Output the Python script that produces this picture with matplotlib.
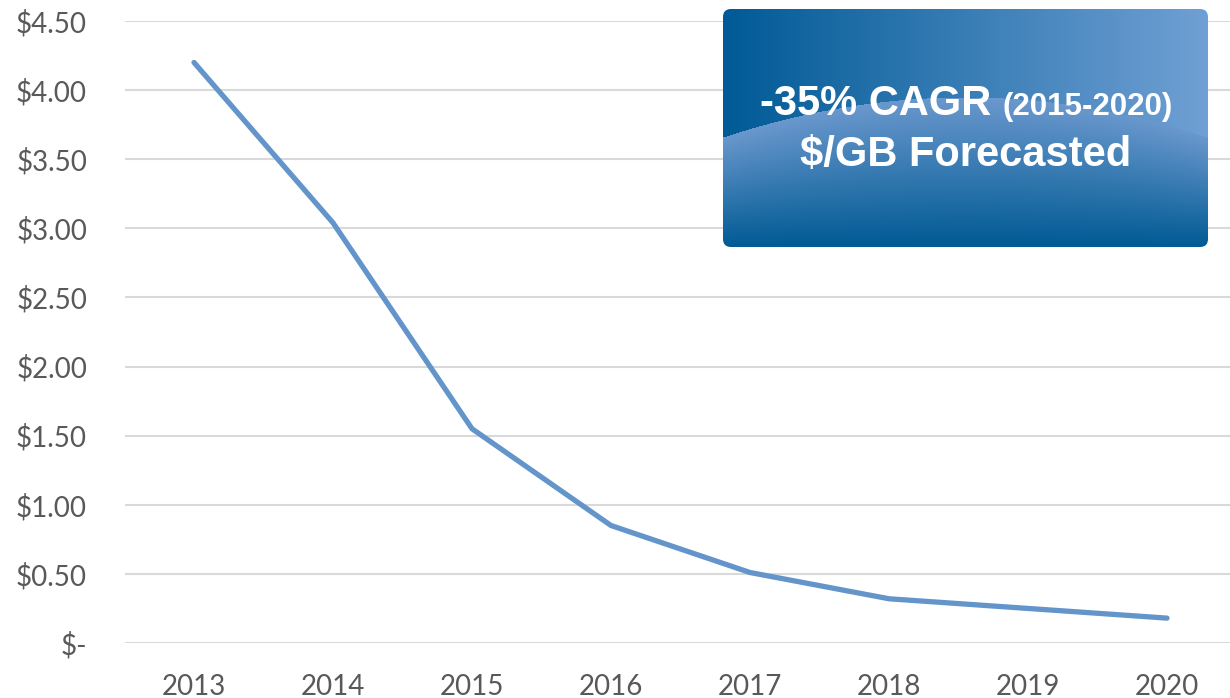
import numpy as np
import matplotlib.pyplot as plt
from matplotlib.patches import FancyBboxPatch
from matplotlib.ticker import FuncFormatter

# price per GB
years = ['2013', '2014', '2015', '2016', '2017', '2018', '2019', '2020']
price = [4.20, 3.04, 1.55, 0.85, 0.51, 0.32, 0.25, 0.18]
yticks = [0, 0.5, 1.0, 1.5, 2.0, 2.5, 3.0, 3.5, 4.0, 4.5]

W, H = 1230, 698
fig = plt.figure(figsize=(W / 100, H / 100), dpi=100)

# plot area: gridlines from x=125 to the right edge, $4.50 at y=21, $- at y=643
ax = fig.add_axes([124.5 / W, (H - 643) / H, 1112 / W, 622 / H])
x = np.arange(len(years))
ax.plot(x, price, color='#6395cb', lw=3.8, solid_capstyle='round', clip_on=False, zorder=3)
ax.set_xlim(-0.5, 7.5)
ax.set_ylim(0, 4.5)
ax.set_xticks(x)
ax.set_xticklabels(years)
ax.set_yticks(yticks)


def money(v, pos):
    if v == 0:
        return '$-'
    return '${:.2f}'.format(v)


ax.yaxis.set_major_formatter(FuncFormatter(money))
ax.grid(axis='y', color='#d9d9d9', lw=1.5)
ax.set_axisbelow(True)
for s in ax.spines.values():
    s.set_visible(False)
ax.tick_params(length=0, labelsize=20, labelcolor='#595959', pad=0)
ax.tick_params(axis='y', pad=27)
ax.tick_params(axis='x', pad=22)
for lab in ax.get_xticklabels() + ax.get_yticklabels():
    lab.set_fontfamily('Lato')

# callout box with gradient, drawn in pixel coords
bx = fig.add_axes([0, 0, 1, 1])
bx.set_xlim(0, W)
bx.set_ylim(H, 0)
bx.axis('off')

x0, y0, bw, bh = 723, 9, 485, 238
nx, ny = bw, bh
u = np.linspace(0, 1, nx)[None, :]
yy = np.arange(ny)[:, None] + y0
arc = 137 - 40 * (1 - (2 * u - 1) ** 2)
c_left = np.array([0, 90, 150]) / 255
c_right = np.array([112, 160, 212]) / 255
c_arc = np.array([106, 152, 205]) / 255
c_bot = np.array([0, 90, 148]) / 255
top = c_left[None, None, :] * (1 - u[..., None]) + c_right[None, None, :] * u[..., None]
top = np.broadcast_to(top, (ny, nx, 3))
t = np.clip((yy - arc) / (y0 + bh - arc), 0, 1)[..., None]
low = c_arc * (1 - t) + c_bot * t
img = np.where((yy < arc)[..., None], top, low)

box = FancyBboxPatch((x0, y0), bw, bh, boxstyle='round,pad=0,rounding_size=8',
                     facecolor='none', edgecolor='none')
bx.add_patch(box)
im = bx.imshow(img, extent=[x0, x0 + bw, y0 + bh, y0], aspect='auto', interpolation='bilinear')
im.set_clip_path(box)

bx.text(991, 115, '-35% CAGR', ha='right', va='baseline', color='white',
        fontsize=30, fontweight='bold', fontfamily='Liberation Sans')
bx.text(1003, 115, '(2015-2020)', ha='left', va='baseline', color='white',
        fontsize=22.5, fontweight='bold', fontfamily='Liberation Sans')
bx.text(966, 166, '$/GB Forecasted', ha='center', va='baseline', color='white',
        fontsize=30, fontweight='bold', fontfamily='Liberation Sans')

fig.savefig('out.png', dpi=100)
